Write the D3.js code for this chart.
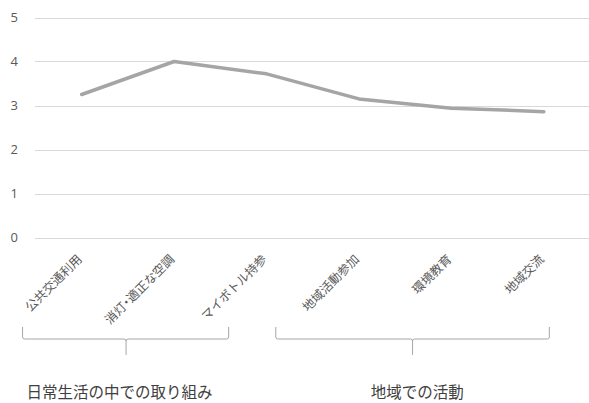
<!DOCTYPE html>
<html>
<head>
<meta charset="utf-8">
<script src="https://cdn.jsdelivr.net/npm/d3@7"></script>
<style>
  body { margin: 0; background: #fff; }
  svg { display: block; }
</style>
</head>
<body>
<script>
// カテゴリと値
var categories = ["公共交通利用", "消灯・適正な空調", "マイボトル持参", "地域活動参加", "環境教育", "地域交流"];
var values = [3.25, 4.0, 3.72, 3.15, 2.94, 2.86];
var yTicks = [0, 1, 2, 3, 4, 5];

// グループ（カテゴリ番号の単位で範囲を指定）
var groupNames = ["日常生活の中での取り組み", "地域での活動"];
var groupStart = [-0.64, 2.1];
var groupEnd = [1.59, 5.06];
var groupTick = [0.48, 3.58];
var groupLabelPos = [0.41, 3.63];

var w = 589,
  h = 403;

var svg = d3.select("body").append("svg").attr("width", w).attr("height", h);

// 比例尺
var xScale = d3.scaleBand().domain(categories).range([35.5, 590]).padding(0);
var cx = function (c) {
  return xScale(c) + xScale.bandwidth() / 2;
};
// カテゴリ番号 → x
var idx = d3
  .scaleLinear()
  .domain([0, categories.length - 1])
  .range([cx(categories[0]), cx(categories[categories.length - 1])]);

var yScale = d3.scaleLinear().domain([0, 5]).range([237.5, 17.5]);

// グリッド線
svg
  .append("g")
  .selectAll("line")
  .data(yTicks)
  .enter()
  .append("line")
  .attr("x1", 35)
  .attr("x2", w)
  .attr("y1", function (d) {
    return Math.round(yScale(d)) + 0.5;
  })
  .attr("y2", function (d) {
    return Math.round(yScale(d)) + 0.5;
  })
  .attr("stroke", "#d9d9d9")
  .attr("stroke-width", 1);

// Y軸ラベル
svg
  .append("g")
  .selectAll("text")
  .data(yTicks)
  .enter()
  .append("text")
  .attr("x", 18)
  .attr("y", function (d) {
    return yScale(d);
  })
  .attr("dy", "0.35em")
  .attr("text-anchor", "end")
  .attr("font-family", "'Open Sans', 'Liberation Sans', sans-serif")
  .attr("font-size", 13)
  .attr("fill", "#595959")
  .text(function (d) {
    return d;
  });

// 折れ線
var line = d3
  .line()
  .x(function (d, i) {
    return cx(categories[i]);
  })
  .y(function (d) {
    return yScale(d);
  });

svg
  .append("path")
  .datum(values)
  .attr("d", line)
  .attr("fill", "none")
  .attr("stroke", "#a5a5a5")
  .attr("stroke-width", 3.5)
  .attr("stroke-linecap", "round")
  .attr("stroke-linejoin", "round");

// カテゴリラベル（-45度回転）
svg
  .append("g")
  .selectAll("text")
  .data(categories)
  .enter()
  .append("text")
  .attr("transform", function (d) {
    return "translate(" + (cx(d) + 1) + ",260) rotate(-45)";
  })
  .attr("text-anchor", "end")
  .attr("font-family", "'Noto Sans CJK JP', sans-serif")
  .attr("font-size", 12.3)
  .attr("fill", "#595959")
  .style("font-feature-settings", function (d) {
    // 中黒はプロポーショナル幅
    return d.indexOf("・") >= 0 ? "'palt'" : "normal";
  })
  .text(function (d) {
    return d;
  });

// グループの括弧
var bTop = 327,
  bMid = 339,
  bBot = 355,
  r = 2;
svg
  .append("g")
  .selectAll("path")
  .data(groupNames)
  .enter()
  .append("path")
  .attr("d", function (d, i) {
    var x0 = idx(groupStart[i]),
      x1 = idx(groupEnd[i]),
      xm = idx(groupTick[i]);
    return (
      "M" + x0 + "," + bTop +
      "L" + x0 + "," + (bMid - r) +
      "Q" + x0 + "," + bMid + " " + (x0 + r) + "," + bMid +
      "L" + (xm - r) + "," + bMid +
      "Q" + xm + "," + bMid + " " + xm + "," + (bMid + r) +
      "L" + xm + "," + bBot +
      "M" + xm + "," + (bMid + r) +
      "Q" + xm + "," + bMid + " " + (xm + r) + "," + bMid +
      "L" + (x1 - r) + "," + bMid +
      "Q" + x1 + "," + bMid + " " + x1 + "," + (bMid - r) +
      "L" + x1 + "," + bTop
    );
  })
  .attr("fill", "none")
  .attr("stroke", "#a6a6a6")
  .attr("stroke-width", 1);

// グループ名
svg
  .append("g")
  .selectAll("text")
  .data(groupNames)
  .enter()
  .append("text")
  .attr("x", function (d, i) {
    return idx(groupLabelPos[i]);
  })
  .attr("y", 398)
  .attr("text-anchor", "middle")
  .attr("font-family", "'Noto Sans CJK JP', sans-serif")
  .attr("font-size", 15.5)
  .attr("fill", "#404040")
  .text(function (d) {
    return d;
  });
</script>
</body>
</html>
